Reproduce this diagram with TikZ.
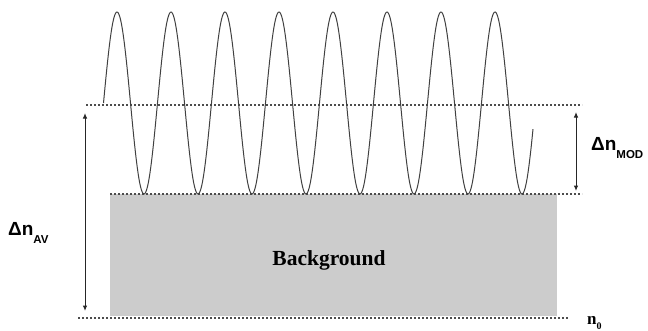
\documentclass[tikz,border=0pt]{standalone}
\usepackage{fontspec}
\setmainfont{Liberation Serif}
\newfontfamily\lsans{Liberation Sans}
\usetikzlibrary{arrows.meta}
\begin{document}
\begin{tikzpicture}[x=1pt,y=-1pt,
  dashline/.style={line width=1.1pt, dash pattern=on 2.4pt off 1.6pt, black!70},
  wave/.style={line width=1pt, black!75},
  dim/.style={line width=1pt, black!85, {Latex[length=5.5pt,width=4.5pt]}-{Latex[length=5.5pt,width=4.5pt]}},
  symlabel/.style={inner sep=0pt, anchor=base west, font=\lsans\bfseries\fontsize{19}{22}\selectfont},
  bglabel/.style={inner sep=0pt, anchor=base, font=\bfseries\fontsize{21.5}{25}\selectfont}]
\useasboundingbox (0,0) rectangle (648,330);
% background block
\fill[gray!40] (110,194) rectangle (557,316);
\node[bglabel] (bg) at (329,265) {Background};
% dashed levels
\coordinate (t1) at (86,105); \coordinate (t2) at (582,105);
\coordinate (m1) at (110,194); \coordinate (m2) at (582,194);
\coordinate (b1) at (78,318); \coordinate (b2) at (569,318);
\draw[dashline] (t1) -- (t2);
\draw[dashline] (m1) -- (m2);
\draw[dashline] (b1) -- (b2);
% modulation wave
\draw[wave] plot[domain=103.5:533, samples=500, smooth] (\x, {103 - 91*sin(6.66667*(\x-103.5))});
% dimension arrows
\coordinate (av1) at (85,113); \coordinate (av2) at (85,311);
\coordinate (md1) at (576,112); \coordinate (md2) at (576,191);
\draw[dim] (av1) -- (av2);
\draw[dim] (md1) -- (md2);
% labels
\node[symlabel] (dav) at (8,235) {Δn\raisebox{-8pt}{\fontsize{11.5}{13}\selectfont AV}};
\node[symlabel] (dmod) at (591,150) {Δn\raisebox{-8pt}{\fontsize{11.5}{13}\selectfont MOD}};
\node[inner sep=0pt, anchor=base west, font=\bfseries\fontsize{17}{20}\selectfont] (n0) at (587,324) {n\raisebox{-5pt}{\fontsize{10}{12}\selectfont 0}};
\end{tikzpicture}
\end{document}
